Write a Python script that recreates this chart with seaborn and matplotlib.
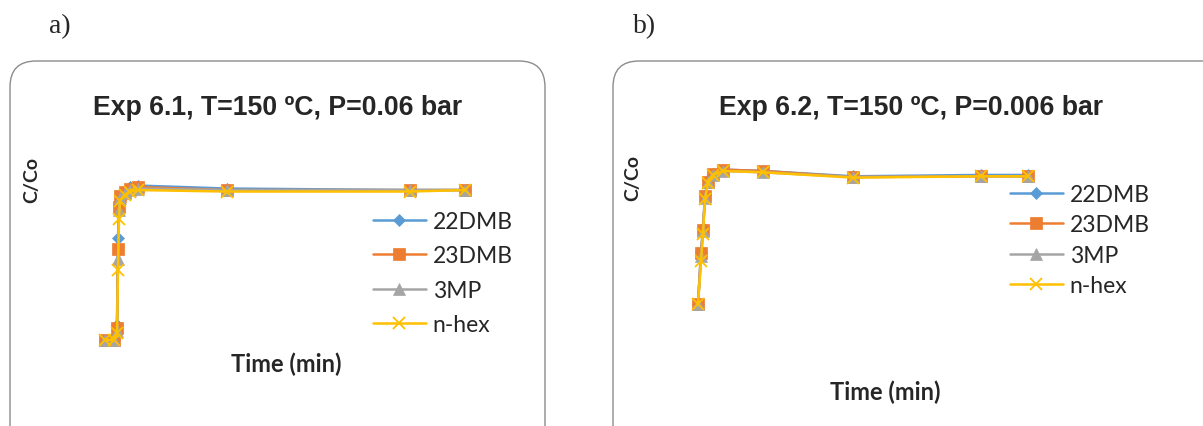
import pandas as pd
import seaborn as sns
import matplotlib.pyplot as plt
from matplotlib.patches import FancyBboxPatch

# ---------------------------------------------------------------
# Date (timp in min, C/Co)
series = ["22DMB", "23DMB", "3MP", "n-hex"]

time_a = [0, 9, 12, 13, 14, 15, 20, 25, 33, 122, 305, 360]
dmb22_a = [0, 0, 0.10, 0.68, 0.91, 0.97, 1.00, 1.02, 1.03, 1.01, 1.00, 1.00]
dmb23_a = [0, 0, 0.08, 0.61, 0.89, 0.96, 0.99, 1.01, 1.02, 1.00, 1.00, 1.00]
mp3_a = [0, 0, 0.06, 0.54, 0.87, 0.95, 0.98, 1.00, 1.01, 1.00, 1.00, 1.00]
nhex_a = [0, 0, 0.05, 0.47, 0.81, 0.93, 0.97, 0.99, 1.00, 0.99, 0.99, 1.00]

time_b = [0, 3, 5, 7, 10, 15, 25, 65, 155, 283, 330]
dmb22_b = [0, 0.39, 0.57, 0.82, 0.93, 0.98, 1.01, 1.00, 0.96, 0.97, 0.97]
dmb23_b = [0, 0.38, 0.56, 0.81, 0.92, 0.98, 1.01, 1.00, 0.955, 0.96, 0.96]
mp3_b = [0, 0.36, 0.55, 0.80, 0.92, 0.97, 1.00, 0.99, 0.955, 0.96, 0.96]
nhex_b = [0, 0.32, 0.53, 0.79, 0.91, 0.97, 1.00, 0.99, 0.95, 0.96, 0.96]

titles = ["Exp 6.1, T=150 ºC, P=0.06 bar", "Exp 6.2, T=150 ºC, P=0.006 bar"]

colors = {"22DMB": "#5B9BD5", "23DMB": "#ED7D31", "3MP": "#A5A5A5", "n-hex": "#FFC000"}
markers = {"22DMB": "D", "23DMB": "s", "3MP": "^", "n-hex": "x"}
msizes = {"22DMB": 6.5, "23DMB": 9, "3MP": 9, "n-hex": 9}


def long_df(t, cols):
    frames = []
    for name, vals in zip(series, cols):
        frames.append(pd.DataFrame({"t": t, "c": vals, "series": name}))
    return pd.concat(frames, ignore_index=True)


df_a = long_df(time_a, [dmb22_a, dmb23_a, mp3_a, nhex_a])
df_b = long_df(time_b, [dmb22_b, dmb23_b, mp3_b, nhex_b])

# ---------------------------------------------------------------
sns.set_theme(style="white")
W, H = 1203, 427
fig = plt.figure(figsize=(W / 100, H / 100), dpi=100)

# fundal in pixeli: chenarele rotunjite si textele
bg = fig.add_axes([0, 0, 1, 1])
bg.set_xlim(0, W)
bg.set_ylim(H, 0)
bg.axis("off")
for x0, w in [(10, 535), (613, 640)]:
    bg.add_patch(FancyBboxPatch((x0, 62), w, 420, boxstyle="round,pad=0,rounding_size=26",
                                fc="white", ec="#8c8c8c", lw=1.0))

bg.text(60, 27, "a)", family="Liberation Serif", fontsize=20, ha="center", va="center")
bg.text(645, 27, "b)", family="Liberation Serif", fontsize=20, ha="center", va="center")
bg.text(278, 108, titles[0], family="Liberation Sans", weight="bold", fontsize=19.2, ha="center", va="center")
bg.text(911, 108, titles[1], family="Liberation Sans", weight="bold", fontsize=19.2, ha="center", va="center")
bg.text(32, 180, "C/Co", family="Lato", weight="bold", fontsize=14, rotation=90, ha="center", va="center")
bg.text(633, 178, "C/Co", family="Lato", weight="bold", fontsize=14, rotation=90, ha="center", va="center")
bg.text(286, 364, "Time (min)", family="Lato", weight="bold", fontsize=17, ha="center", va="center")
bg.text(885, 392, "Time (min)", family="Lato", weight="bold", fontsize=17, ha="center", va="center")


def px_axes(l, r, t, b):
    return fig.add_axes([l / W, 1 - b / H, (r - l) / W, (b - t) / H])


panels = [
    (df_a, (95, 475, 175, 350), (-10, 370), (-0.06, 1.107), (373, 274), 0.57),
    (df_b, (688, 1040, 160, 315), (-10, 342), (-0.075, 1.09), (1010, 241), 0.40),
]

for df, box, xl, yl, leg_xy, lspace in panels:
    ax = px_axes(*box)
    ax.patch.set_alpha(0)
    for name in series:
        sub = df[df["series"] == name]
        sns.lineplot(data=sub, x="t", y="c", color=colors[name], marker=markers[name],
                     markersize=msizes[name], markeredgecolor=colors[name],
                     markeredgewidth=1.3 if name == "n-hex" else 0.5,
                     sort=False, linewidth=1.8, ax=ax, label=name)
    ax.set_xlim(*xl)
    ax.set_ylim(*yl)
    ax.axis("off")
    ax.legend(handles=ax.lines[:4], labels=series, loc="center left",
              bbox_to_anchor=(leg_xy[0] / W, 1 - leg_xy[1] / H), bbox_transform=fig.transFigure,
              frameon=False, borderpad=0, borderaxespad=0, handlelength=2.3, handletextpad=0.3,
              labelspacing=lspace, prop={"family": "Lato", "size": 16.5})

plt.savefig("out.png", dpi=100)
